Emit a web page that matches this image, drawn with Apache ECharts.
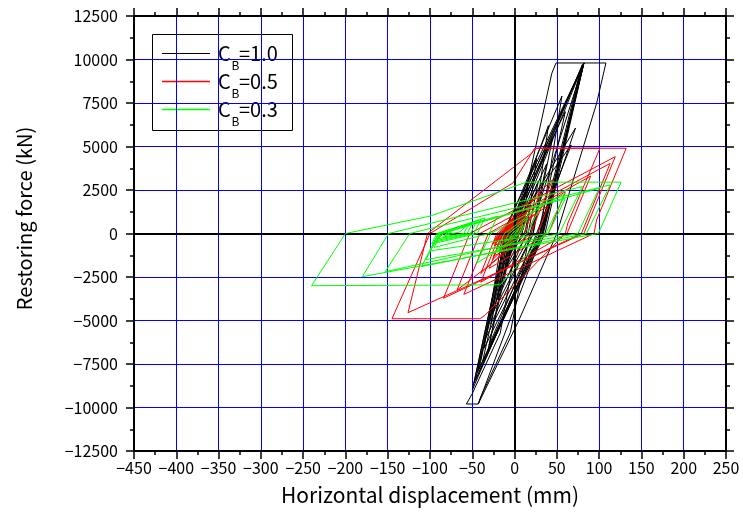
<!DOCTYPE html>
<html><head><meta charset="utf-8">
<script src="https://cdn.jsdelivr.net/npm/echarts@6/dist/echarts.min.js"></script>
<style>html,body{margin:0;padding:0;background:#fff}#c{width:743px;height:523px}</style>
</head><body><div id="c"></div>
<script>
// axis ticks
const xTickValues = [-450,-400,-350,-300,-250,-200,-150,-100,-50,0,50,100,150,200,250];
const yTickValues = [-12500,-10000,-7500,-5000,-2500,0,2500,5000,7500,10000,12500];
const seriesNames = ['CB=1.0','CB=0.5','CB=0.3'];
const legendMain = ['C','C','C'];
const legendSub = ['B','B','B'];
const legendTail = ['=1.0','=0.5','=0.3'];
const seriesColors = ['#000000','#ff0000','#00ff00'];

// C_B = 1.0  [displacement mm, force kN]
const cb10 = [
[0,0],[4,700],[2,0],[-3,-500],[0,0],[9,1500],[5,0],[-7,-1200],[-2,0],[16,2800],[9,0],[-12,-2200],[-5,0],[26,4300],[14,0],[-20,-3800],[-8,0],[40,6200],[22,0],[-28,-5200],[-12,0],[56,7900],[30,0],[-36,-6600],[-14,0],[82,9800],[34,0],[-48,-8600],[-10,0],[82,9800],[32,0],[-44,-8000],[-6,0],[78,9400],[30,0],[-50,-9000],[-10,0],[82,9800],[33,0],[-43,-9800],[-57,-9800],[-50,-9200],[-17,-5735],[12,2115],[44,9200],[49,9800],[108,9800],[97,7480],[50,0],[5,-5000],[-40,-9500],[-43,-9800],[-40,-9400],[-5,-5700],[18,0],[82,9800],[36,0],[-38,-7400],[-4,0],[72,6060],[30,0],[-32,-6800],[0,0],[82,9800],[31,0],[-42,-7800],[-8,0],[67,5090],[26,0],[-30,-6400],[-3,0],[80,9700],[33,0],[-46,-8400],[-9,0],[60,7000],[28,0],[-34,-6000],[-4,0],[45,5500],[22,0],[-25,-4500],[0,0],[38,4000],[20,0],[-18,-3300],[2,0],[28,3000],[16,0],[-12,-2200],[4,0],[20,2000],[12,0],[-6,-1200],[6,0],[14,1000],[10,200]
];
// C_B = 0.5
const cb05 = [
[0,0],[6,400],[3,0],[-6,-350],[-3,0],[10,800],[3,0],[-12,-700],[-6,0],[14,1200],[4,0],[-18,-1100],[-9,0],[20,1600],[7,0],[-26,-1500],[-14,0],[30,2300],[11,0],[-40,-2300],[-21,0],[45,3100],[19,0],[-68,-3250],[-41,0],[113,4030],[79,0],[-84,-3720],[-53,0],[119,4413],[82,0],[-126,-4550],[-103,0],[20,4600],[24,4900],[101,4900],[63,600],[60,0],[-35,-4700],[-41,-4900],[-145,-4900],[-100,0],[-2,2900],[20,4600],[24,4900],[132,4900],[97,776],[94,0],[-60,-3500],[-31,0],[90,3300],[62,0],[-40,-2800],[-17,0],[60,2400],[40,0],[-30,-2000],[-13,0],[40,1600],[27,0],[-25,-1300],[-12,0],[25,1100],[15,0],[-22,-900],[-14,0],[12,900],[4,0],[-24,-700],[-17,0],[6,1000],[-2,0],[-26,-600],[-19,0],[2,1100],[-6,0],[-24,-500],[-18,0],[0,900],[-7,0],[-22,-400],[-16,0],[-2,800],[-8,0],[-20,-300],[-15,0],[-3,700],[-9,0],[-19,-200],[-14,100],[-4,600],[-10,100]
];
// C_B = 0.3
const cb03 = [
[0,0],[5,250],[2,0],[-6,-250],[-3,0],[10,500],[5,0],[-12,-500],[-7,0],[16,900],[7,0],[-22,-1000],[-12,0],[30,1500],[15,0],[-45,-1700],[-28,0],[60,2300],[37,0],[-17,-2950],[-240,-3000],[-200,0],[-100,1000],[14,2950],[126,2950],[99,0],[-180,-2480],[-149,0],[80,2700],[53,0],[-153,-2200],[-124,0],[113,2790],[85,0],[-110,-1900],[-90,0],[100,2600],[75,0],[-105,-1500],[-88,0],[60,2000],[40,0],[-100,-1000],[-90,0],[-20,1000],[-30,0],[-95,-800],[-88,0],[-35,900],[-44,0],[-98,-600],[-92,0],[-40,800],[-48,0],[-95,-500],[-90,0],[-45,700],[-52,0],[-92,-400],[-86,0],[-50,600],[-56,0],[-90,-300],[-84,0],[-55,500],[-60,0],[-85,-200],[-78,100],[-58,400],[-64,100],[-82,-100],[-74,100]
];

const ff = '"Noto Sans CJK JP", "Noto Sans", sans-serif';
const minus = v => String(v).replace('-', '\u2212');
const chart = echarts.init(document.getElementById('c'), null, {renderer: 'canvas'});

function axisCommon(values) {
  return {
    type: 'value',
    min: values[0], max: values[values.length - 1],
    interval: values[1] - values[0],
    axisLine: {show: true, onZero: false, lineStyle: {color: '#000', width: 2}},
    axisTick: {show: true, inside: false, length: 8, lineStyle: {color: '#000', width: 1.5}},
    minorTick: {show: true, splitNumber: 2, length: 4, lineStyle: {color: '#000', width: 1.5}},
    minorSplitLine: {show: false}
  };
}

const dataSets = [cb10, cb05, cb03];
const series = dataSets.map((d, i) => ({
  type: 'line', name: seriesNames[i], data: d, showSymbol: false, symbol: 'none',
  lineStyle: {color: seriesColors[i], width: 1}, itemStyle: {color: seriesColors[i]},
  z: 3 + i, animation: false
}));
series.unshift({
  type: 'line', name: 'zero', data: [], z: 2, silent: true, animation: false,
  markLine: {silent: true, symbol: 'none', animation: false, label: {show: false},
    lineStyle: {color: '#000', width: 2, type: 'solid'},
    data: [{xAxis: 0}, {yAxis: 0}]}
});

// legend drawn as graphic (subscript text)
const lg = {x: 152.5, y: 34.5, w: 140, h: 96, row0: 53.5, rowGap: 28};
const legendChildren = [{
  type: 'rect', shape: {x: lg.x, y: lg.y, width: lg.w, height: lg.h},
  style: {fill: '#fff', stroke: '#000', lineWidth: 1}
}];
seriesNames.forEach((n, i) => {
  const yy = lg.row0 + i * lg.rowGap;
  legendChildren.push({
    type: 'line', shape: {x1: 162, y1: yy, x2: 210, y2: yy},
    style: {stroke: seriesColors[i], lineWidth: i === 0 ? 1 : 1.5}
  });
  legendChildren.push({
    type: 'text', x: 218, y: yy,
    style: {text: legendMain[i], font: '20px ' + ff, fill: '#000', textAlign: 'left', textVerticalAlign: 'middle'}
  });
  legendChildren.push({
    type: 'text', x: 231.5, y: yy + 12,
    style: {text: legendSub[i], font: '12px ' + ff, fill: '#000', textAlign: 'left', textVerticalAlign: 'middle'}
  });
  legendChildren.push({
    type: 'text', x: 239, y: yy,
    style: {text: legendTail[i], font: '20px ' + ff, fill: '#000', textAlign: 'left', textVerticalAlign: 'middle'}
  });
});

chart.setOption({
  animation: false,
  backgroundColor: '#fff',
  grid: {left: 134, right: 17, top: 16, bottom: 72, containLabel: false},
  xAxis: [
    Object.assign(axisCommon(xTickValues), {
      position: 'bottom',
      axisLabel: {show: true, margin: 9, fontSize: 16, color: '#000', fontFamily: ff, formatter: minus},
      splitLine: {show: true, lineStyle: {color: '#0000ff', width: 1}},
      name: 'Horizontal displacement (mm)', nameLocation: 'middle', nameGap: 34,
      nameTextStyle: {fontSize: 21, color: '#000', fontFamily: ff}
    }),
    Object.assign(axisCommon(xTickValues), {
      position: 'top', axisLabel: {show: false}, splitLine: {show: false}
    })
  ],
  yAxis: [
    Object.assign(axisCommon(yTickValues), {
      position: 'left',
      axisLabel: {show: true, margin: 16, fontSize: 16, color: '#000', fontFamily: ff, formatter: minus},
      splitLine: {show: true, lineStyle: {color: '#0000ff', width: 1}},
      name: 'Restoring force (kN)', nameLocation: 'middle', nameGap: 100,
      nameTextStyle: {fontSize: 20, color: '#000', fontFamily: ff, padding: [0, 0, 0, 30]}
    }),
    Object.assign(axisCommon(yTickValues), {
      position: 'right', axisLabel: {show: false}, splitLine: {show: false}
    })
  ],
  graphic: [{type: 'group', z: 100, children: legendChildren}],
  series: series
});
</script></body></html>
